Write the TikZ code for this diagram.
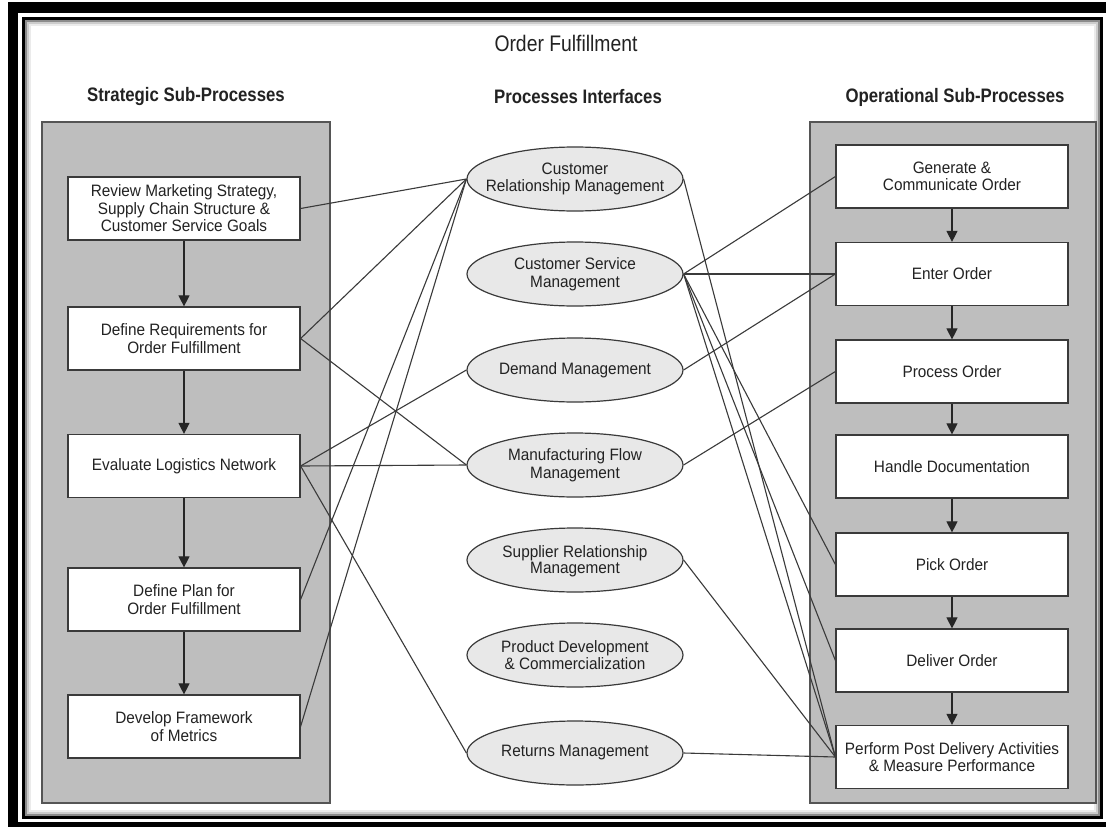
\documentclass[tikz,border=0pt]{standalone}
\usepackage{fontspec}
\setmainfont{Liberation Sans}
\newfontfamily\bodyfont[FakeStretch=0.93]{Liberation Sans}
\newfontfamily\headfont[FakeStretch=0.86]{Liberation Sans}
\usetikzlibrary{shapes.geometric,arrows.meta}
\definecolor{panelgray}{HTML}{BEBEBE}
\definecolor{panelline}{HTML}{555555}
\definecolor{ellgray}{HTML}{E8E8E8}
\definecolor{edge}{HTML}{3A3A3A}
\definecolor{txt}{HTML}{222222}
\tikzset{
  bodytext/.style={font=\bodyfont\fontsize{16.5}{17.5}\selectfont, text=txt, align=center},
  stepbox/.style={bodytext, draw=edge, line width=1.2pt, fill=white, minimum width=232pt, minimum height=63pt, inner sep=0pt},
  ell/.style={ellipse, draw=edge, line width=1.2pt, fill=ellgray, minimum width=216pt, minimum height=64pt, inner sep=0pt},
  elltext/.style={bodytext, inner sep=0pt},
  panel/.style={draw=panelline, fill=panelgray, line width=1.3pt, inner sep=0pt},
  link/.style={draw=edge, line width=1.1pt},
  flow/.style={draw=black!85, line width=1.1pt, -{Triangle[width=11pt,length=11pt]}},
  head/.style={font=\headfont\bfseries\fontsize{19.5}{22}\selectfont, text=txt},
  titlestyle/.style={font=\headfont\fontsize{22.5}{24}\selectfont, text=txt}
}
\begin{document}
\begin{tikzpicture}[x=1pt,y=-1pt]
\useasboundingbox (0,0) rectangle (1106,827);
% frame
\fill[white] (0,0) rectangle (1106,827);
\fill[black] (8,2) rectangle (1106,827);
\fill[white] (18,13) rectangle (1106,822);
\fill[black] (21.5,16.5) rectangle (1103,819);
\fill[white] (24.5,19.5) rectangle (1100,816);
\draw[black!45, line width=2pt] (25.5,20.5) rectangle (1099,815);
\draw[black!20, line width=2pt] (27.5,22.5) rectangle (1097,813);
\draw[black!8, line width=2pt] (29.5,24.5) rectangle (1095,811);

% titles
\node[titlestyle] (title) at (566,43) {Order Fulfillment};
\node[head] (hL) at (186,97) {Strategic Sub-Processes};
\node[head] (hM) at (578,97) {Processes Interfaces};
\node[head] (hR) at (955,97) {Operational Sub-Processes};

% panels
\node[panel, minimum width=288pt, minimum height=681pt] (panelL) at (186,462.5) {};
\node[panel, minimum width=286pt, minimum height=681pt] (panelR) at (953,462.5) {};

% strategic boxes
\node[stepbox] (b1) at (184,208.5) {Review Marketing Strategy,\\Supply Chain Structure \&\\Customer Service Goals};
\node[stepbox] (b2) at (184,338.5) {Define Requirements for\\Order Fulfillment};
\node[stepbox] (b3) at (184,466) {Evaluate Logistics Network};
\node[stepbox] (b4) at (184,599.5) {Define Plan for\\Order Fulfillment};
\node[stepbox] (b5) at (184,726.5) {Develop Framework\\of Metrics};

% operational boxes
\node[stepbox] (r1) at (952,176.5) {Generate \&\\Communicate Order};
\node[stepbox] (r2) at (952,274) {Enter Order};
\node[stepbox] (r3) at (952,371.5) {Process Order};
\node[stepbox] (r4) at (952,466.5) {Handle Documentation};
\node[stepbox] (r5) at (952,564.5) {Pick Order};
\node[stepbox] (r6) at (952,660.5) {Deliver Order};
\node[stepbox] (r7) at (952,757) {Perform Post Delivery Activities\\\& Measure Performance};

% process interfaces
\node[ell, label={[elltext]center:{Customer\\Relationship Management}}] (crm) at (575,179) {};
\node[ell, label={[elltext]center:{Customer Service\\Management}}] (csm) at (575,274) {};
\node[ell, label={[elltext]center:{Demand Management}}] (dm) at (575,370) {};
\node[ell, label={[elltext]center:{Manufacturing Flow\\Management}}] (mfm) at (575,465) {};
\node[ell, label={[elltext, yshift=-1pt]center:{Supplier Relationship\\[-2pt]Management}}] (srm) at (575,560) {};
\node[ell, label={[elltext]center:{Product Development\\\& Commercialization}}] (pdc) at (575,655) {};
\node[ell, label={[elltext]center:{Returns Management}}] (rm) at (575,753) {};

% strategic links
\draw[link] (b1.east) -- (crm.west);
\draw[link] (b2.east) -- (crm.west);
\draw[link] (b2.east) -- (mfm.west);
\draw[link] (b3.east) -- (dm.west);
\draw[link] (b3.east) -- (mfm.west);
\draw[link] (b3.east) -- (rm.west);
\draw[link] (b4.east) -- (crm.west);
\draw[link] (b5.east) -- (crm.west);

% operational links
\draw[link] (crm.east) -- (r7.west);
\draw[link] (csm.east) -- (r1.west);
\draw[link] (csm.east) -- (r2.west);
\draw[link] (csm.east) -- (r5.west);
\draw[link] (csm.east) -- (r6.west);
\draw[link] (csm.east) -- (r7.west);
\draw[link] (dm.east) -- (r2.west);
\draw[link] (mfm.east) -- (r3.west);
\draw[link] (srm.east) -- (r7.west);
\draw[link] (rm.east) -- (r7.west);

% flows
\draw[flow] (b1.south) -- (b2.north);
\draw[flow] (b2.south) -- (b3.north);
\draw[flow] (b3.south) -- (b4.north);
\draw[flow] (b4.south) -- (b5.north);
\draw[flow] (r1.south) -- (r2.north);
\draw[flow] (r2.south) -- (r3.north);
\draw[flow] (r3.south) -- (r4.north);
\draw[flow] (r4.south) -- (r5.north);
\draw[flow] (r5.south) -- (r6.north);
\draw[flow] (r6.south) -- (r7.north);
\end{tikzpicture}
\end{document}
